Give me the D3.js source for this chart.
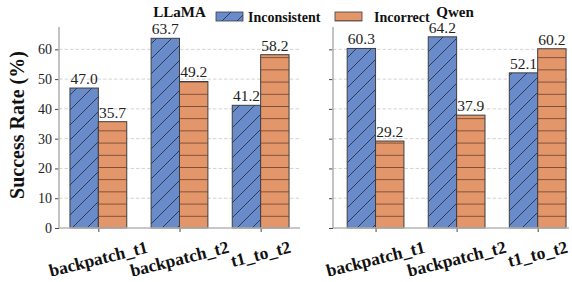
<!DOCTYPE html>
<html>
<head>
<meta charset="utf-8">
<script src="https://cdn.jsdelivr.net/npm/d3@7"></script>
<style>
  body { margin: 0; background: white; }
  text { font-family: "Liberation Serif", "Times New Roman", serif; }
</style>
</head>
<body>
<svg id="chart"></svg>
<script>
const width = 572;
const height = 282;

// data
const categories = ["backpatch_t1", "backpatch_t2", "t1_to_t2"];
const seriesNames = ["Inconsistent", "Incorrect"];
const llamaInconsistent = [47.0, 63.7, 41.2];
const llamaIncorrect = [35.7, 49.2, 58.2];
const qwenInconsistent = [60.3, 64.2, 52.1];
const qwenIncorrect = [29.2, 37.9, 60.2];
const yTicks = [0, 10, 20, 30, 40, 50, 60];

const colors = ["#6a8bca", "#e4966b"];
const barW = 0.35;

const svg = d3.select("#chart")
    .attr("width", width)
    .attr("height", height);

// hatch patterns, anchored to the page like matplotlib does
const defs = svg.append("defs");
const diag = defs.append("pattern")
    .attr("id", "hatchDiag")
    .attr("patternUnits", "userSpaceOnUse")
    .attr("width", 15).attr("height", 15);
diag.append("rect").attr("width", 15).attr("height", 15).attr("fill", colors[0]);
diag.append("path")
    .attr("d", "M-3,3 L3,-3 M0,15 L15,0 M12,18 L18,12")
    .attr("stroke", "#27304a").attr("stroke-width", 0.9);

const horiz = defs.append("pattern")
    .attr("id", "hatchHoriz")
    .attr("patternUnits", "userSpaceOnUse")
    .attr("y", 228)
    .attr("width", 12).attr("height", 12.2);
horiz.append("rect").attr("width", 12).attr("height", 12.2).attr("fill", colors[1]);
horiz.append("line")
    .attr("x1", 0).attr("x2", 12).attr("y1", 0).attr("y2", 0)
    .attr("stroke", "#5a3422").attr("stroke-width", 1.4);

defs.append("clipPath").attr("id", "pageClip")
    .append("rect").attr("width", 569).attr("height", height);

const y = d3.scaleLinear().domain([0, 67.5]).range([228, 27]);

const panels = [
    { title: "LLaMA", a: llamaInconsistent, b: llamaIncorrect, range: [59, 300], domain: [-0.485, 2.485], labels: true },
    { title: "Qwen", a: qwenInconsistent, b: qwenIncorrect, range: [333, 577], domain: [-0.525, 2.485], labels: false }
];

const root = svg.append("g").attr("clip-path", "url(#pageClip)");

panels.forEach(p => {
    const x = d3.scaleLinear().domain(p.domain).range(p.range);
    const g = root.append("g");

    // grid
    g.selectAll(".grid")
        .data(yTicks.slice(1))
        .enter()
        .append("line")
        .attr("x1", p.range[0]).attr("x2", p.range[1])
        .attr("y1", d => y(d)).attr("y2", d => y(d))
        .attr("stroke", "#c8c8c8")
        .attr("stroke-width", 0.8)
        .attr("stroke-dasharray", "3.5,2");

    // bars
    const series = [p.a, p.b];
    series.forEach((vals, s) => {
        const off = s === 0 ? -barW : 0;
        g.selectAll(".bar" + s)
            .data(vals)
            .enter()
            .append("rect")
            .attr("x", (d, i) => x(i + off))
            .attr("width", x(barW) - x(0))
            .attr("y", d => y(d))
            .attr("height", d => y(0) - y(d))
            .attr("fill", s === 0 ? "url(#hatchDiag)" : "url(#hatchHoriz)")
            .attr("stroke", "#3d3d3d")
            .attr("stroke-width", 1);

        g.selectAll(".val" + s)
            .data(vals)
            .enter()
            .append("text")
            .attr("x", (d, i) => x(i + off + barW / 2))
            .attr("y", d => y(d) - 4)
            .attr("text-anchor", "middle")
            .attr("font-size", 15.5)
            .attr("fill", "#222")
            .text(d => d.toFixed(1));
    });

    // y axis
    const yAxis = d3.axisLeft(y).tickValues(yTicks).tickSize(4).tickPadding(3)
        .tickFormat(p.labels ? d3.format("d") : "");
    const ya = g.append("g").attr("transform", `translate(${p.range[0]},0)`).call(yAxis);
    ya.select(".domain").remove();
    ya.selectAll(".tick line").attr("stroke", "#444");
    ya.selectAll(".tick text").attr("font-size", 14).attr("fill", "#222")
        .style("font-family", "'Liberation Serif', serif");

    // x axis
    const xa = g.append("g").attr("transform", "translate(0,228)")
        .call(d3.axisBottom(x).tickValues([0, 1, 2]).tickSize(4).tickFormat(""));
    xa.select(".domain").remove();
    xa.selectAll(".tick line").attr("stroke", "#444");

    // spines
    g.append("line")
        .attr("x1", p.range[0]).attr("x2", p.range[0])
        .attr("y1", y.range()[1]).attr("y2", 228)
        .attr("stroke", "#b4b4b4").attr("stroke-width", 1.6);
    g.append("line")
        .attr("x1", p.range[0]).attr("x2", p.range[1])
        .attr("y1", 228).attr("y2", 228)
        .attr("stroke", "#b4b4b4").attr("stroke-width", 1.6);

    // x labels, rotated
    const rot = 14;
    const rad = rot * Math.PI / 180;
    categories.forEach((c, i) => {
        const t = g.append("text")
            .attr("text-anchor", "middle")
            .attr("dominant-baseline", "central")
            .attr("font-size", 17.5)
            .attr("font-weight", "bold")
            .attr("fill", "#111")
            .text(c);
        const w = t.node().getComputedTextLength();
        const h = 17.5 * 1.0;
        const cy = 238 + (w * Math.sin(rad) + h * Math.cos(rad)) / 2;
        t.attr("transform", `translate(${x(i)},${cy}) rotate(${-rot})`);
    });

    // title
    g.append("text")
        .attr("x", (p.range[0] + p.range[1]) / 2)
        .attr("y", 17)
        .attr("text-anchor", "middle")
        .attr("font-size", 15)
        .attr("font-weight", "bold")
        .attr("fill", "#111")
        .text(p.title);
});

// y label
svg.append("text")
    .attr("transform", "translate(24,125) rotate(-90)")
    .attr("text-anchor", "middle")
    .attr("font-size", 20)
    .attr("font-weight", "bold")
    .attr("fill", "#111")
    .text("Success Rate (%)");

// legend
const legendX = [216, 335];
seriesNames.forEach((name, s) => {
    const lg = svg.append("g").attr("transform", `translate(${legendX[s]},12)`);
    lg.append("rect")
        .attr("width", 27).attr("height", 9)
        .attr("fill", s === 0 ? "url(#hatchDiag)" : "url(#hatchHoriz)")
        .attr("stroke", "#3d3d3d").attr("stroke-width", 0.8);
    lg.append("text")
        .attr("x", s === 0 ? 32 : 39)
        .attr("y", 9.5)
        .attr("font-size", 14)
        .attr("font-weight", "bold")
        .attr("fill", "#111")
        .text(name);
});
</script>
</body>
</html>
